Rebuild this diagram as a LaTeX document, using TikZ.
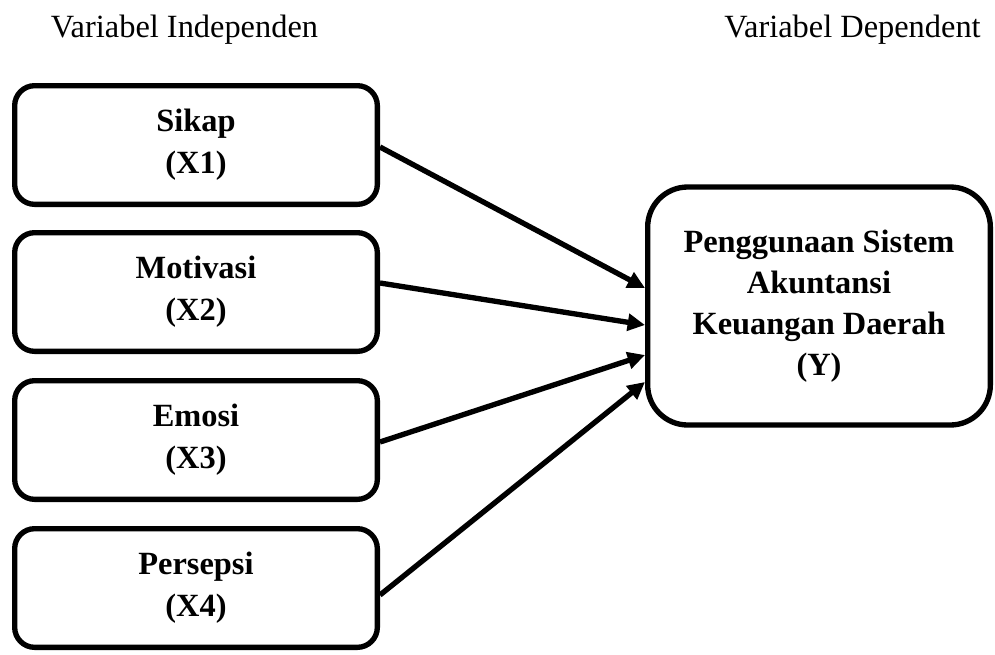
\documentclass[tikz,border=0pt]{standalone}
\usepackage{fontspec}
\setmainfont{Liberation Serif}
\usetikzlibrary{arrows.meta}

\tikzset{
  varbox/.style={draw, line width=4pt, rounded corners=15pt, align=center,
    inner sep=0pt, minimum width=272pt, minimum height=89pt,
    font=\fontsize{24.3}{31.5}\selectfont\bfseries},
  depbox/.style={varbox, rounded corners=30pt, minimum width=257pt, minimum height=178.5pt,
    font=\fontsize{24.3}{30.75}\selectfont\bfseries},
  heading/.style={anchor=base, font=\fontsize{24.3}{28}\selectfont},
  link/.style={line width=4pt, -{Triangle[length=13pt,width=12.5pt]}}
}

\begin{document}
\begin{tikzpicture}[x=0.75pt,y=-0.75pt]
\useasboundingbox (0,0) rectangle (995,654);
% Headings
\node[heading] (hind) at (184.5,37) {Variabel Independen};
\node[heading] (hdep) at (852.5,37) {Variabel Dependent};
% Independent variables
\node[varbox] (x1) at (196,145) {Sikap\\ (X1)};
\node[varbox] (x2) at (196,292) {Motivasi\\(X2)};
\node[varbox] (x3) at (196,440) {Emosi\\(X3)};
\node[varbox] (x4) at (196,588) {Persepsi\\(X4)};
% Dependent variable
\node[depbox] (y) at (819,306) {Penggunaan Sistem\\Akuntansi\\Keuangan Daerah\\(Y)};
% Arrows into Y
\draw[link] ([yshift=-1.5pt]x1.east) -- ([yshift=13.5pt]y.west);
\draw[link] ([yshift=6.75pt]x2.east) -- ([yshift=-14.25pt]y.west);
\draw[link] ([yshift=-1.5pt]x3.east) -- ([yshift=-36.75pt]y.west);
\draw[link] ([yshift=-5.25pt]x4.east) -- ([yshift=-57pt]y.west);
\end{tikzpicture}
\end{document}
